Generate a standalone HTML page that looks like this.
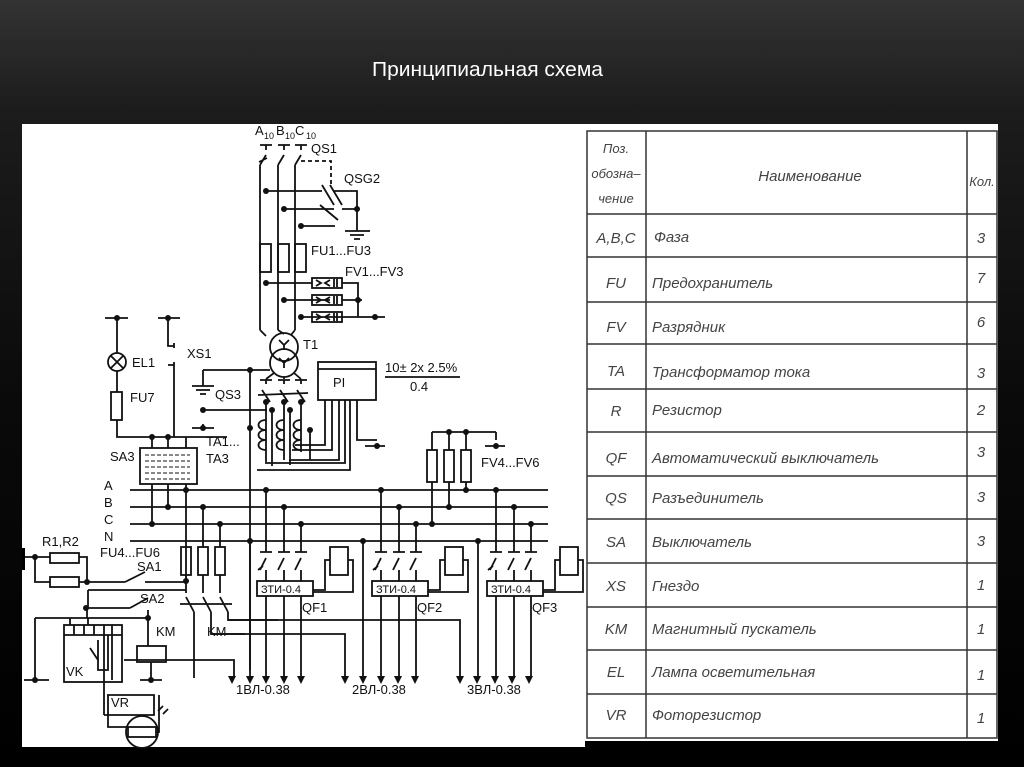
<!DOCTYPE html>
<html><head><meta charset="utf-8"><style>
body{margin:0;width:1024px;height:767px;overflow:hidden;background:linear-gradient(#333 0px,#1c1c1c 110px,#0a0a0a 400px,#000 767px);}
svg{position:absolute;left:0;top:0}
</style></head><body>
<svg width="1024" height="767" viewBox="0 0 1024 767" xmlns="http://www.w3.org/2000/svg" font-family="Liberation Sans, sans-serif">
<text x="372" y="76" fill="#fff" font-size="20" font-family="Liberation Sans Narrow, Liberation Sans, sans-serif" textLength="231" lengthAdjust="spacingAndGlyphs">Принципиальная схема</text>
<rect x="22" y="124" width="563" height="623" fill="#fff"/>
<rect x="580" y="124" width="418" height="617" fill="#fff"/>
<rect x="22" y="548" width="3" height="22" fill="#000"/>
<!-- table -->
<g stroke="#333" stroke-width="1.5" fill="none">
<rect x="587" y="131" width="410" height="607"/>
<line x1="646" y1="131" x2="646" y2="738"/><line x1="967" y1="131" x2="967" y2="738"/>
<line x1="587" y1="214" x2="997" y2="214"/><line x1="587" y1="257" x2="997" y2="257"/>
<line x1="587" y1="302" x2="997" y2="302"/><line x1="587" y1="344" x2="997" y2="344"/>
<line x1="587" y1="389" x2="997" y2="389"/><line x1="587" y1="432" x2="997" y2="432"/>
<line x1="587" y1="476" x2="997" y2="476"/><line x1="587" y1="519" x2="997" y2="519"/>
<line x1="587" y1="563" x2="997" y2="563"/><line x1="587" y1="607" x2="997" y2="607"/>
<line x1="587" y1="650" x2="997" y2="650"/><line x1="587" y1="694" x2="997" y2="694"/>
</g>
<g fill="#444" font-style="italic" font-size="15">
<text x="616" y="153" text-anchor="middle" font-size="13">Поз.</text>
<text x="616" y="178" text-anchor="middle" font-size="13">обозна–</text>
<text x="616" y="203" text-anchor="middle" font-size="13">чение</text>
<text x="810" y="181" text-anchor="middle">Наименование</text>
<text x="982" y="186" text-anchor="middle" font-size="13">Кол.</text>
<g text-anchor="middle">
<text x="616" y="243">A,B,C</text><text x="616" y="288">FU</text><text x="616" y="332">FV</text>
<text x="616" y="376">TA</text><text x="616" y="416">R</text><text x="616" y="463">QF</text>
<text x="616" y="503">QS</text><text x="616" y="547">SA</text><text x="616" y="591">XS</text>
<text x="616" y="634">KM</text><text x="616" y="677">EL</text><text x="616" y="720">VR</text>
<text x="981" y="243">3</text><text x="981" y="283">7</text><text x="981" y="327">6</text>
<text x="981" y="378">3</text><text x="981" y="415">2</text><text x="981" y="457">3</text>
<text x="981" y="502">3</text><text x="981" y="546">3</text><text x="981" y="590">1</text>
<text x="981" y="634">1</text><text x="981" y="680">1</text><text x="981" y="723">1</text>
</g>
<text x="654" y="242">Фаза</text><text x="652" y="288">Предохранитель</text>
<text x="652" y="332">Разрядник</text><text x="652" y="377">Трансформатор тока</text>
<text x="652" y="415">Резистор</text><text x="652" y="463">Автоматический выключатель</text>
<text x="652" y="503">Разъединитель</text><text x="652" y="547">Выключатель</text>
<text x="652" y="591">Гнездо</text><text x="652" y="634">Магнитный пускатель</text>
<text x="652" y="677">Лампа осветительная</text><text x="652" y="720">Фоторезистор</text>
</g>
<!-- schematic -->
<g stroke="#111" stroke-width="1.8" fill="none">
<!-- top phases -->
<path d="M260 145h12M278 145h12M295 145h12M266 145v5M284 145v5M301 145v5"/>
<path d="M266 155l-6 10M284 155l-6 10M301 155l-6 10M259 162l8 -4"/>
<path d="M260 165v165M278 165v165M295 165v165" />
<path d="M301 161h30v24" stroke-dasharray="4 3"/>
<path d="M266 191h56M284 209h50M301 226h34"/>
<path d="M322 185l12 20M330 185l12 20M320 205l18 15M334 191h23v35M342 209h15M357 226v5M345 231h25M350 235h14M354 239h6"/>
<path d="M260 200v0"/>
<rect x="260" y="244" width="11" height="28"/><rect x="278" y="244" width="11" height="28"/><rect x="295" y="244" width="11" height="28"/>
<path d="M266 283h46M284 300h46M301 317h46M342 283h16v34M342 300h20M342 317h43"/>
<rect x="312" y="278" width="30" height="10"/><rect x="312" y="295" width="30" height="10"/><rect x="312" y="312" width="30" height="10"/>
<path d="M316 280l5 3-5 3M330 280l-5 3 5 3M334 279v8M337 279v8M316 297l5 3-5 3M330 297l-5 3 5 3M334 296v8M337 296v8M316 314l5 3-5 3M330 314l-5 3 5 3M334 313v8M337 313v8"/>
<path d="M260 330l6 6M278 330l6 4M295 330l-4 5"/>
<circle cx="284" cy="347" r="14"/><circle cx="284" cy="363" r="14"/>
<path d="M279 340l5 5 5-5M284 345v5M279 358l5 5 5-5M284 363v5"/>
<path d="M274 373l-8 6M284 377v2M294 373l7 6M260 380h12M278 380h12M295 380h12M266 380v4M284 380v4M301 380v4"/>
<path d="M262 390l8 12M280 390l8 12M297 390l8 12M258 395l50 -2"/>
<path d="M203 370h67M203 370v16M192 386h22M196 390h14M200 394h6M203 410h64M192 428h22M203 428v-4"/>
<path d="M250 370v300"/>
<path d="M266 402v60M272 410v56M284 402v58M290 410v55M301 402v50M310 430v30"/>
<path d="M266 420c-10 0-10 10 0 10c-10 0-10 10 0 10c-10 0-10 10 0 10M284 420c-10 0-10 10 0 10c-10 0-10 10 0 10c-10 0-10 10 0 10M301 420c-10 0-10 10 0 10c-10 0-10 10 0 10c-10 0-10 10 0 10"/>
<rect x="318" y="362" width="58" height="38"/><path d="M318 369h58"/>
<path d="M325 400v45h-30M332 400v50h-40M339 400v60h-50M345 400v63h-80M350 400v70h-93M357 400v40h20M365 446h20"/>
<path d="M385 377h75"/>
<path d="M432 432h64M496 432v8M485 446h20M432 432v18M449 432v18M466 432v18"/>
<rect x="427" y="450" width="10" height="32"/><rect x="444" y="450" width="10" height="32"/><rect x="461" y="450" width="10" height="32"/>
<path d="M432 482v42M449 482v25M466 482v8"/>
<!-- buses -->
<path d="M130 490h418M130 507h418M130 524h418M130 541h418"/>
<!-- EL XS -->
<path d="M105 318h23M117 318v35M117 371v21M117 420v17h110"/>
<circle cx="117" cy="362" r="9"/><path d="M111 356l12 12M123 356l-12 12"/>
<rect x="111" y="392" width="11" height="28"/>
<path d="M158 318h22M168 318v28h6M174 343v5M174 367v-5M168 365h6v72"/>
<rect x="140" y="448" width="57" height="36"/>
<path d="M145 455h45M145 461h45M145 467h45M145 473h45M145 479h45" stroke-width="1" stroke-dasharray="4 2"/>
<path d="M152 437v11M168 437v11M186 437v11M152 484v40M168 484v23M186 484v96M186 490v0"/>
<!-- FU4-6 -->
<path d="M203 507v40M220 524v23M203 575v18M220 575v18"/>
<rect x="181" y="547" width="10" height="28"/><rect x="198" y="547" width="10" height="28"/><rect x="215" y="547" width="10" height="28"/>
<path d="M186 575v18"/>
<path d="M186 597l8 15M203 597l8 15M220 597l8 15M180 604l52 0M194 612v48h-70M211 612v22h34M228 612v8h50"/>
<!-- R1R2 -->
<path d="M25 557h25M79 557h8v25M35 557v25h15M79 582h46M125 582l20-10M145 582h41M88 590h98"/>
<rect x="50" y="553" width="29" height="10"/><rect x="50" y="577" width="29" height="10"/>
<path d="M88 590v18h42M130 608l18-10M148 610v20h0M87 608v10H70v7M35 618h35M35 618v62M24 680h25M148 618h-60v7M148 618v28"/>
<rect x="137" y="646" width="29" height="16"/><path d="M151 662v18M140 680h22"/>
<rect x="64" y="625" width="58" height="57"/>
<path d="M64 635h58M74 625v10M84 625v10M94 625v10M104 625v10M112 625v10M90 648l8 12M98 640v30h10v-35M104 635v80M112 635v45"/>
<path d="M104 715h50v-20h-47"/>
<circle cx="142" cy="732" r="16"/><rect x="128" y="727" width="28" height="10"/>
<path d="M108 695v32h20M156 732h3v-37"/>
<path d="M163 706l-5 5M168 709l-5 5"/>
<!-- QF groups -->
<path d="M194 660v18M210 634v0"/>
</g>
<g stroke="#111" stroke-width="1.8" fill="none" id="qf">
<path d="M266 490v62M284 507v45M301 524v28M260 552h12M278 552h12M295 552h12"/>
<path d="M266 558l-6 12M284 558l-6 12M301 558l-6 12M263 566l-5 4M266 570v11M284 570v11M301 570v11"/>
<rect x="257" y="581" width="56" height="15"/>
<path d="M313 590h12v-30h5M348 560h5v32h-40"/>
<rect x="330" y="547" width="18" height="28"/>
<path d="M266 596v80M284 596v80M301 596v80"/>
</g>
<use href="#qf" transform="translate(115 0)"/>
<use href="#qf" transform="translate(230 0)"/>
<g stroke="#111" stroke-width="1.8" fill="none">
<path d="M381 490v0M250 541v135M363 541v135M478 541v135"/>
<path d="M296 410v0"/>
<path d="M224 620v0M124 660h0"/>
<path d="M194 660h40v16M245 634h0M211 634h134v42M228 620h232v56"/>
</g>
<g fill="#111">
<path d="M228 676h8l-4 8zM246 676h8l-4 8zM262 676h8l-4 8zM280 676h8l-4 8zM297 676h8l-4 8zM341 676h8l-4 8zM359 676h8l-4 8zM377 676h8l-4 8zM394 676h8l-4 8zM411 676h8l-4 8zM456 676h8l-4 8zM473 676h8l-4 8zM491 676h8l-4 8zM508 676h8l-4 8zM525 676h8l-4 8z"/>
<circle cx="266" cy="191" r="3"/><circle cx="284" cy="209" r="3"/><circle cx="301" cy="226" r="3"/><circle cx="357" cy="209" r="3"/>
<circle cx="266" cy="283" r="3"/><circle cx="284" cy="300" r="3"/><circle cx="301" cy="317" r="3"/><circle cx="358" cy="300" r="3"/><circle cx="375" cy="317" r="3"/>
<circle cx="117" cy="318" r="3"/><circle cx="168" cy="318" r="3"/><circle cx="250" cy="370" r="3"/><circle cx="250" cy="428" r="3"/><circle cx="203" cy="410" r="3"/><circle cx="203" cy="428" r="3"/>
<circle cx="152" cy="437" r="3"/><circle cx="168" cy="437" r="3"/>
<circle cx="186" cy="490" r="3"/><circle cx="168" cy="507" r="3"/><circle cx="152" cy="524" r="3"/><circle cx="203" cy="507" r="3"/><circle cx="220" cy="524" r="3"/><circle cx="250" cy="541" r="3"/>
<circle cx="266" cy="490" r="3"/><circle cx="284" cy="507" r="3"/><circle cx="301" cy="524" r="3"/>
<circle cx="381" cy="490" r="3"/><circle cx="399" cy="507" r="3"/><circle cx="416" cy="524" r="3"/><circle cx="363" cy="541" r="3"/>
<circle cx="496" cy="490" r="3"/><circle cx="514" cy="507" r="3"/><circle cx="531" cy="524" r="3"/><circle cx="478" cy="541" r="3"/>
<circle cx="432" cy="524" r="3"/><circle cx="449" cy="507" r="3"/><circle cx="466" cy="490" r="3"/><circle cx="449" cy="432" r="3"/><circle cx="466" cy="432" r="3"/><circle cx="496" cy="446" r="3"/>
<circle cx="266" cy="402" r="3"/><circle cx="272" cy="410" r="3"/><circle cx="284" cy="402" r="3"/><circle cx="290" cy="410" r="3"/><circle cx="301" cy="402" r="3"/><circle cx="310" cy="430" r="3"/><circle cx="377" cy="446" r="3"/>
<circle cx="35" cy="557" r="3"/><circle cx="87" cy="582" r="3"/><circle cx="186" cy="581" r="3"/><circle cx="86" cy="608" r="3"/><circle cx="148" cy="618" r="3"/><circle cx="35" cy="680" r="3"/><circle cx="151" cy="680" r="3"/>
</g>
<g fill="#111" font-size="13">
<text x="255" y="135">A</text><text x="264" y="139" font-size="9">10</text>
<text x="276" y="135">B</text><text x="285" y="139" font-size="9">10</text>
<text x="295" y="135">C</text><text x="306" y="139" font-size="9">10</text>
<text x="311" y="153">QS1</text><text x="344" y="183">QSG2</text>
<text x="311" y="255">FU1...FU3</text><text x="345" y="276">FV1...FV3</text>
<text x="303" y="349">T1</text><text x="333" y="387">PI</text>
<text x="385" y="372">10± 2x 2.5%</text><text x="410" y="391">0.4</text>
<text x="132" y="367">EL1</text><text x="130" y="402">FU7</text><text x="187" y="358">XS1</text>
<text x="215" y="399">QS3</text><text x="206" y="446">TA1...</text><text x="206" y="463">TA3</text>
<text x="110" y="461">SA3</text>
<text x="104" y="490">A</text><text x="104" y="507">B</text><text x="104" y="524">C</text><text x="104" y="541">N</text>
<text x="42" y="546">R1,R2</text><text x="100" y="557">FU4...FU6</text>
<text x="137" y="571">SA1</text><text x="140" y="603">SA2</text>
<text x="156" y="636">KM</text><text x="207" y="636">KM</text><text x="66" y="676">VK</text><text x="111" y="707">VR</text>
<text x="481" y="467">FV4...FV6</text>
<text x="236" y="694">1ВЛ-0.38</text><text x="352" y="694">2ВЛ-0.38</text><text x="467" y="694">3ВЛ-0.38</text>
<text x="302" y="612">QF1</text><text x="417" y="612">QF2</text><text x="532" y="612">QF3</text>
<g font-size="11"><text x="261" y="593">ЗТИ-0.4</text><text x="376" y="593">ЗТИ-0.4</text><text x="491" y="593">ЗТИ-0.4</text></g>
</g>
</svg>
</body></html>
